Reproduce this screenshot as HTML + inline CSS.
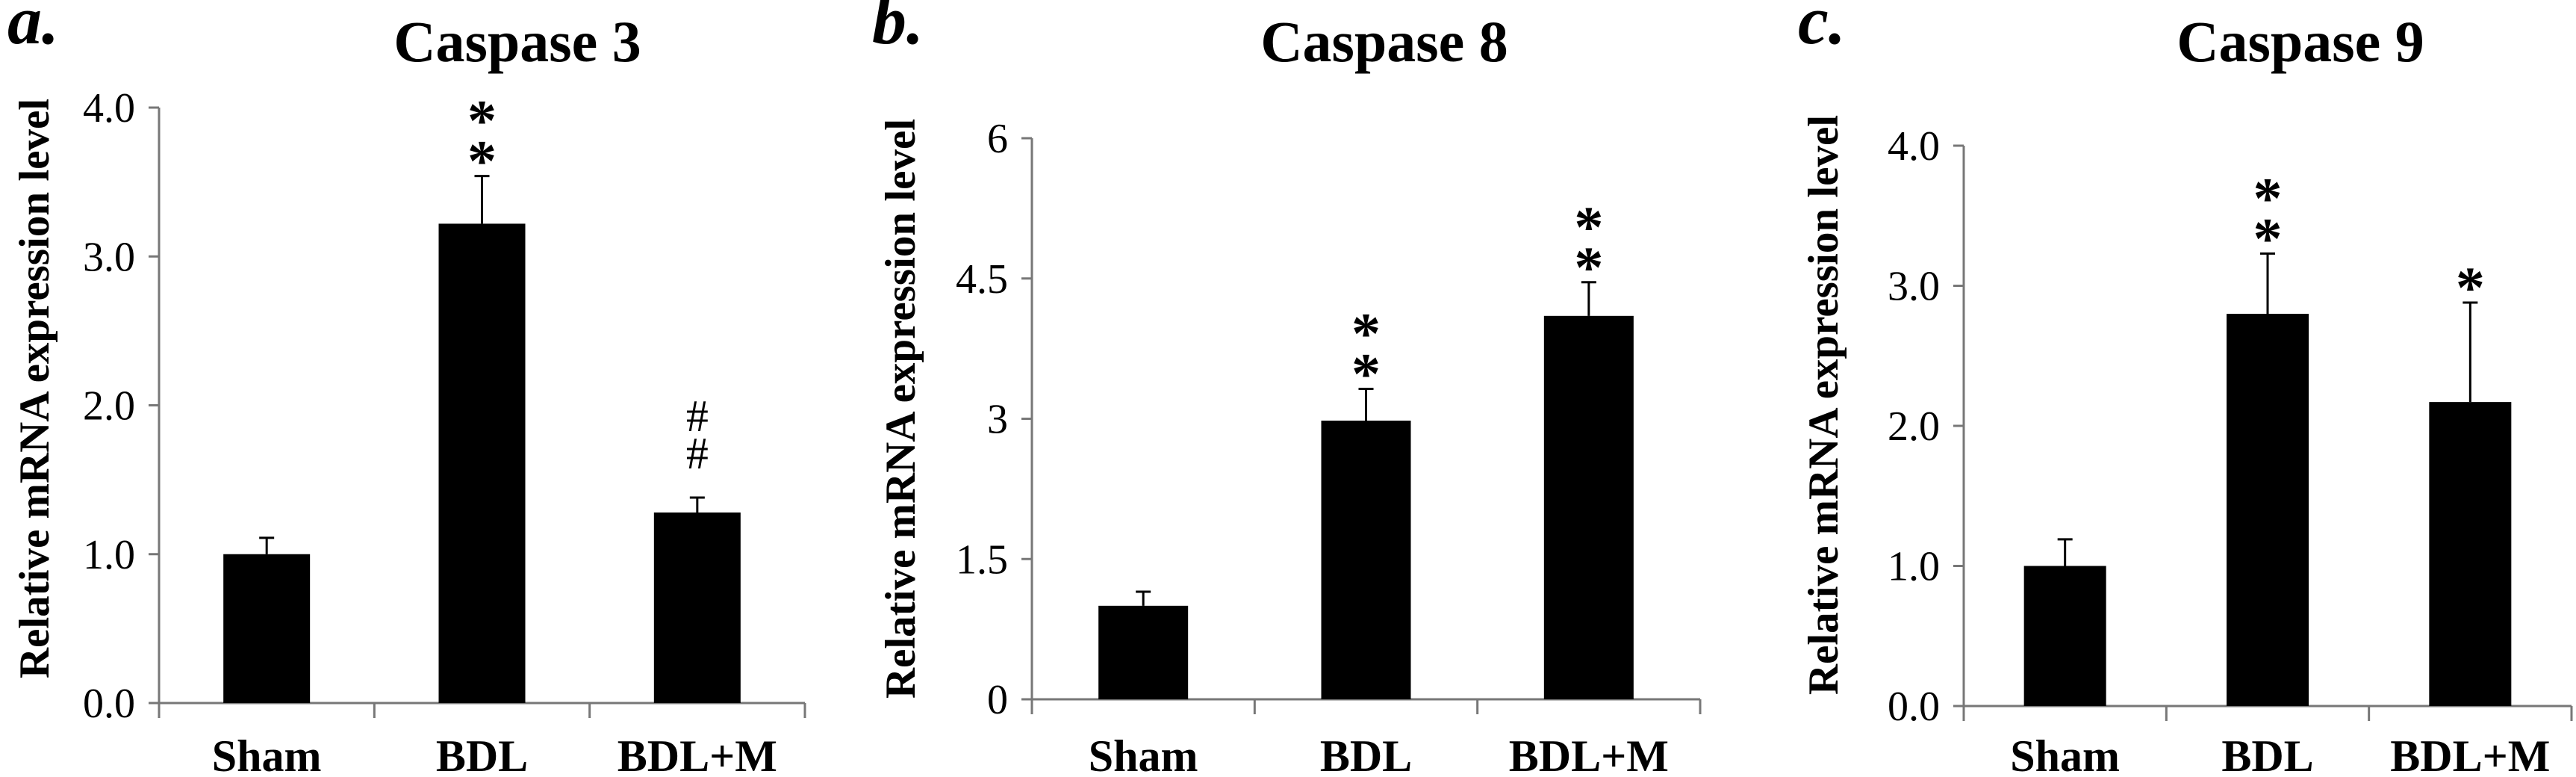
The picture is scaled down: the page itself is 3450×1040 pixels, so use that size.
<!DOCTYPE html>
<html><head><meta charset="utf-8"><style>
html,body{margin:0;padding:0;background:#fff;}
svg{display:block;}
text{font-family:"Liberation Serif",serif;fill:#000;}
</style></head><body>
<svg id="chart" width="3450" height="1040" viewBox="0 0 3450 1040"></svg>
<script>
const categories = ["Sham", "BDL", "BDL+M"];
const titles = ["Caspase 3", "Caspase 8", "Caspase 9"];
const panelLetters = ["a.", "b.", "c."];
const casp3Values = [1.0, 3.22, 1.28];
const casp3Errors = [0.11, 0.32, 0.10];
const casp8Values = [1.0, 2.98, 4.10];
const casp8Errors = [0.15, 0.34, 0.36];
const casp9Values = [1.0, 2.80, 2.17];
const casp9Errors = [0.19, 0.43, 0.71];
const casp3Ticks = ["0.0", "1.0", "2.0", "3.0", "4.0"];
const casp8Ticks = ["0", "1.5", "3", "4.5", "6"];
const casp9Ticks = ["0.0", "1.0", "2.0", "3.0", "4.0"];
const casp3Marks = ["", "**", "##"];
const casp8Marks = ["", "**", "**"];
const casp9Marks = ["", "**", "*"];

const panels = [
  {values: casp3Values, errors: casp3Errors, ticks: casp3Ticks, marks: casp3Marks, max: 4,
   x0: 213, x1: 1078, y0: 941, yTop: 144, barW: 116, titleX: 693, letterX: 10, ylabX: 45, ylabY: 520},
  {values: casp8Values, errors: casp8Errors, ticks: casp8Ticks, marks: casp8Marks, max: 6,
   x0: 1382, x1: 2277, y0: 936, yTop: 185, barW: 120, titleX: 1854, letterX: 1168, ylabX: 1205, ylabY: 547},
  {values: casp9Values, errors: casp9Errors, ticks: casp9Ticks, marks: casp9Marks, max: 4,
   x0: 2630, x1: 3444, y0: 945, yTop: 195, barW: 110, titleX: 3081, letterX: 2408, ylabX: 2441, ylabY: 542}
];
const NS = "http://www.w3.org/2000/svg";
const svg = document.getElementById("chart");
function mk(tag, attrs, parent) {
  const e = document.createElementNS(NS, tag);
  for (const k in attrs) e.setAttribute(k, attrs[k]);
  (parent || svg).appendChild(e);
  return e;
}
panels.forEach((p, pi) => {
  const g = mk("g", {});
  
  
  const yScale = v => p.y0 - (v / p.max) * (p.y0 - p.yTop);
  const band = (p.x1 - p.x0) / categories.length;
  const xCenter = i => p.x0 + band * (i + 0.5);

  const title = mk("text", {x: p.titleX, y: 82, "text-anchor": "middle", "font-size": 78, "font-weight": "bold"}, g);
  title.textContent = titles[pi];
  
  

  const letter = mk("text", {x: p.letterX, y: 58, "font-size": 92, "font-weight": "bold", "font-style": "italic"}, g);
  letter.textContent = panelLetters[pi];
  
  

  const yl = mk("text", {x: 0, y: 0, "text-anchor": "middle", "font-size": 57, "font-weight": "bold",
    transform: "translate(" + (p.ylabX + 20) + "," + p.ylabY + ") rotate(-90)"}, g);
  yl.textContent = "Relative mRNA expression level";
  
  

  const ya = mk("line", {x1: p.x0, y1: p.yTop, x2: p.x0, y2: p.y0, stroke: "#777", "stroke-width": 3}, g);
  
  
  p.ticks.forEach((t, i) => {
    const v = p.max * i / (p.ticks.length - 1);
    const y = yScale(v);
    const tk = mk("line", {x1: p.x0 - 14, y1: y, x2: p.x0, y2: y, stroke: "#777", "stroke-width": 3}, g);
    
    
    const tl = mk("text", {x: p.x0 - 32, y: y + 19, "text-anchor": "end", "font-size": 56}, g);
    tl.textContent = t;
    
    
  });
  const xa = mk("line", {x1: p.x0 - 14, y1: p.y0, x2: p.x1, y2: p.y0, stroke: "#777", "stroke-width": 3}, g);
  
  
  for (let i = 0; i <= categories.length; i++) {
    const x = p.x0 + band * i;
    const tk = mk("line", {x1: x, y1: p.y0, x2: x, y2: p.y0 + 20, stroke: "#777", "stroke-width": 3}, g);
    
    
  }
  categories.forEach((c, i) => {
    const cx = xCenter(i);
    const lab = mk("text", {x: cx, y: 1032, "text-anchor": "middle", "font-size": 60, "font-weight": "bold"}, g);
    lab.textContent = c;
    
    

    const top = yScale(p.values[i]);
    const bar = mk("rect", {x: cx - p.barW / 2, y: top, width: p.barW, height: p.y0 - top, fill: "#000"}, g);
    
    

    const et = yScale(p.values[i] + p.errors[i]);
    const eg = mk("path", {d: "M" + cx + " " + top + "V" + et + "M" + (cx - 10) + " " + et + "H" + (cx + 10),
      stroke: "#000", "stroke-width": 3, fill: "none"}, g);
    
    

    const m = p.marks[i];
    for (let k = 0; k < m.length; k++) {
      const ch = m[m.length - 1 - k];
      const isStar = ch === "*";
      const center = et - (isStar ? 36 : 60) - k * (isStar ? 54 : 50);
      const s = mk("text", {x: cx, y: isStar ? center + 42 : center + 21, "text-anchor": "middle",
        "font-size": isStar ? 78 : 60, "font-weight": isStar ? "bold" : "normal",
        "font-family": isStar ? "Liberation Sans, sans-serif" : "Liberation Serif, serif"}, g);
      s.textContent = ch;
      
      
    }
  });
});
</script>
</body></html>
